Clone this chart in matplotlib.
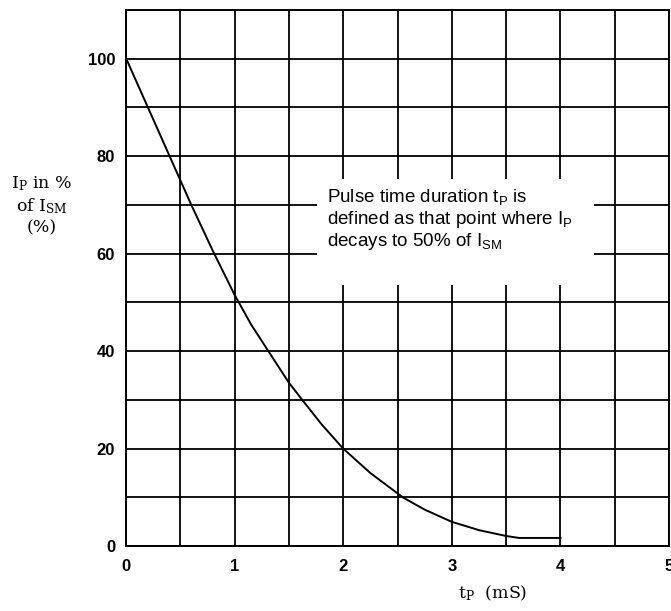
import matplotlib
matplotlib.use("Agg")
import matplotlib.pyplot as plt
from matplotlib.patches import Rectangle
from matplotlib.ticker import MultipleLocator

# curve (pulse duration vs % of I_SM)
t_ms = [0, 0.2, 0.4, 0.6, 0.8, 1.0, 1.15, 1.31, 1.5, 1.64, 1.8, 2.0, 2.25,
        2.55, 2.75, 3.0, 3.25, 3.5, 3.62, 4.0]
ip_pct = [100, 90, 80, 70, 60.5, 51.5, 45.5, 40, 33.5, 29.5, 25, 20, 15,
          10, 7.5, 5, 3.3, 2.1, 1.7, 1.7]

x_ticks = [0, 1, 2, 3, 4, 5]
y_ticks = [0, 20, 40, 60, 80, 100]

note_lines = [r"Pulse time duration $\mathsf{t_P}$ is",
              r"defined as that point where $\mathsf{I_P}$",
              r"decays to 50% of $\mathsf{I_{SM}}$"]

plt.rcParams["mathtext.fontset"] = "custom"
plt.rcParams["mathtext.rm"] = "DejaVu Serif"
plt.rcParams["mathtext.sf"] = "Liberation Sans"

fig = plt.figure(figsize=(6.71, 6.11), dpi=100)
ax = fig.add_axes([0.188, 0.106, 0.809, 0.878])

ax.plot(t_ms, ip_pct, color="black", lw=1.4, zorder=3)

ax.set_xlim(0, 5)
ax.set_ylim(0, 110)
ax.set_xticks(x_ticks)
ax.set_yticks(y_ticks)
ax.xaxis.set_minor_locator(MultipleLocator(0.5))
ax.yaxis.set_minor_locator(MultipleLocator(10))
ax.set_axisbelow(True)
ax.grid(which="both", color="black", lw=1.3)
ax.tick_params(which="both", length=0)
ax.tick_params(axis="x", pad=9)
ax.tick_params(axis="y", pad=8)
for lab in ax.get_xticklabels() + ax.get_yticklabels():
    lab.set_fontfamily("Liberation Sans")
    lab.set_fontweight("bold")
    lab.set_fontsize(12)
for s in ax.spines.values():
    s.set_linewidth(1.4)

# white box that breaks the grid behind the note
ax.add_patch(Rectangle((1.755, 53.6), 4.31 - 1.755, 75.2 - 53.6,
                       facecolor="white", edgecolor="none", zorder=1))
for line, y in zip(note_lines, [71.6, 67.0, 62.4]):
    ax.text(1.85, y, line, fontsize=13.5, fontfamily="Liberation Sans",
            ha="left", va="center", zorder=4)

ax.set_ylabel("$\\mathrm{I_P}$ in %\nof $\\mathrm{I_{SM}}$\n(%)",
              rotation=0, fontfamily="DejaVu Serif", fontsize=12.5,
              ha="center", va="center", linespacing=1.25)
ax.yaxis.set_label_coords(-0.155, 0.636)
ax.set_xlabel("$\\mathrm{t_P}$  (mS)", fontfamily="DejaVu Serif",
              fontsize=12.5, va="center")
ax.xaxis.set_label_coords(0.676, -0.088)

fig.savefig("out.png", dpi=100)
